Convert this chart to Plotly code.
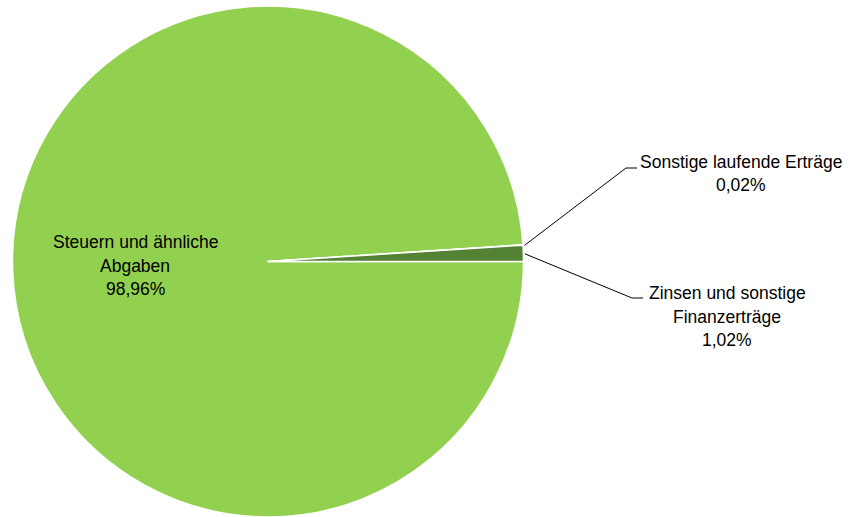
import math
import plotly.graph_objects as go

labels = ["Steuern und ähnliche Abgaben", "Sonstige laufende Erträge", "Zinsen und sonstige Finanzerträge"]
label_lines = [
    ["Steuern und ähnliche", "Abgaben", "98,96%"],
    ["Sonstige laufende Erträge", "0,02%"],
    ["Zinsen und sonstige", "Finanzerträge", "1,02%"],
]
values = [98.96, 0.02, 1.02]
colors = ["#92D050", "#4F7A30", "#548235"]

W, H = 851, 517
cx, cy, R = 268, 262, 256  # pixel center / radius of pie
ROT = 90

def px2paper(x, y):
    return x / W, (H - y) / H

fig = go.Figure(go.Pie(
    labels=labels, values=values, sort=False,
    direction="clockwise", rotation=ROT,
    marker=dict(colors=colors, line=dict(color="white", width=1.5)),
    textinfo="none", hoverinfo="label+percent", showlegend=False,
    domain=dict(x=[(cx - R) / W, (cx + R) / W], y=[max(0, (H - cy - R) / H), (H - cy + R) / H]),
))

total = sum(values)
cum = 0
mids = []
for v in values:
    mids.append(math.radians(ROT + (cum + v / 2) / total * 360))
    cum += v

font = dict(family="Liberation Sans, Arial, sans-serif", size=17.5, color="black")
annotations = []
shapes = []

LS = 23.5
# leader line elbows (pixels)
leaders = {
    2: dict(elbow=(632, 298), end=(643, 298)),
    1: dict(elbow=(626, 168), end=(637, 168)),
}
for i, spec in leaders.items():
    a = mids[i]
    sx, sy = cx + R * math.sin(a) + 1, cy - R * math.cos(a)
    p0 = px2paper(sx, sy)
    p1 = px2paper(*spec["elbow"])
    p2 = px2paper(*spec["end"])
    shapes.append(dict(type="path", xref="paper", yref="paper",
                       path=f"M {p0[0]},{p0[1]} L {p1[0]},{p1[1]} L {p2[0]},{p2[1]}",
                       line=dict(color="black", width=1)))

def add_label(i, x, y0):
    for k, line in enumerate(label_lines[i]):
        tx, ty = px2paper(x, y0 + k * LS)
        annotations.append(dict(x=tx, y=ty, xref="paper", yref="paper", text=line,
                                showarrow=False, font=font, align="center",
                                xanchor="center", yanchor="middle"))

add_label(0, 135, 242)
add_label(1, 741, 162)
add_label(2, 727, 293)

fig.update_layout(
    width=W, height=H, margin=dict(l=0, r=0, t=0, b=0),
    paper_bgcolor="white", plot_bgcolor="white",
    annotations=annotations, shapes=shapes,
)
fig.write_html("out.html", config={"displayModeBar": False},
               post_script="document.body.style.margin='0';document.body.style.overflow='hidden';")
